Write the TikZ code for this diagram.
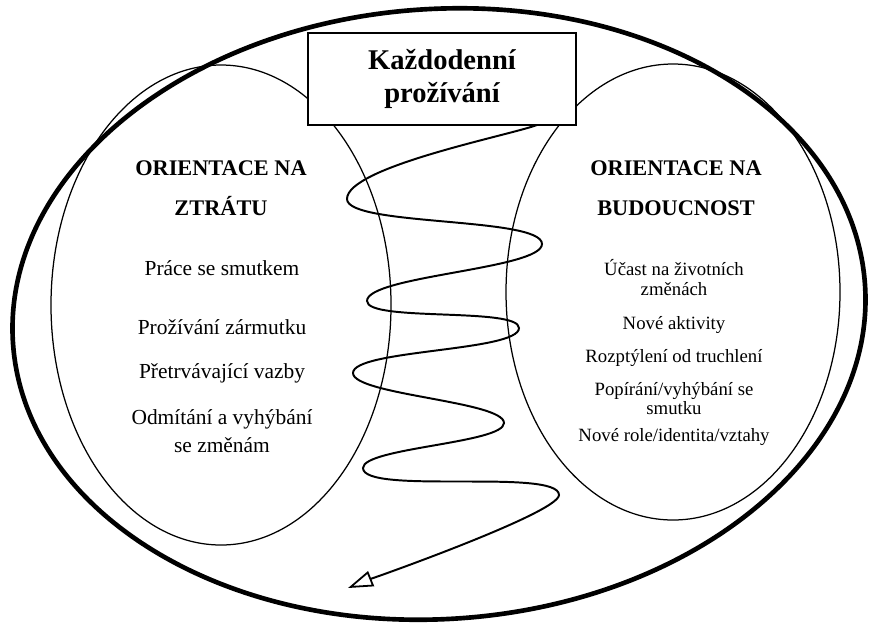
\documentclass[tikz,border=0pt]{standalone}
\usepackage{fontspec}
\setmainfont{Liberation Serif}
\usetikzlibrary{arrows.meta,calc}

\begin{document}
\begin{tikzpicture}[x=0.56pt,y=0.56pt,
  outer/.style={line width=2.6pt},
  side/.style={line width=0.7pt},
  titlebox/.style={draw,line width=0.9pt,fill=white,minimum width=150pt,
             minimum height=51.5pt,align=center,
             font=\fontsize{16}{18}\selectfont\bfseries},
  head/.style={align=center,font=\fontsize{12.5}{22.4}\selectfont\bfseries},
  iteml/.style={align=center,font=\fontsize{12}{15.6}\selectfont},
  itemr/.style={align=center,font=\fontsize{10.5}{10.8}\selectfont},
  spiral/.style={line width=1.1pt,
             -{Triangle[open,length=14pt,width=9pt,line width=1pt]}}
]
\useasboundingbox (0,0) rectangle (872,-627);
\coordinate (oc) at (439,-314);
\coordinate (lc) at (221,-305);
\coordinate (rc) at (673,-292);
\draw[outer,rotate around={4:(oc)}] (oc) ellipse [x radius=427,y radius=305];
\draw[side] (lc) ellipse [x radius=170,y radius=240];
\draw[side] (rc) ellipse [x radius=167,y radius=228];

\node[titlebox] (title) at (442,-79) {Každodenní\\prožívání};

\coordinate (s0) at (537,-125);
\coordinate (s1) at (347,-199);
\coordinate (s2) at (542,-244);
\coordinate (s3) at (367,-301);
\coordinate (s4) at (519,-328);
\coordinate (s5) at (353,-373);
\coordinate (s6) at (504,-423);
\coordinate (s7) at (363,-468);
\coordinate (s8) at (559,-495);
\coordinate (tip) at (348,-588);
\draw[spiral] (s0) to[out=200,in=90,looseness=0.4] (s1)
  to[out=-90,in=90,looseness=0.35] (s2)
  to[out=-90,in=90,looseness=0.35] (s3)
  to[out=-90,in=90,looseness=0.35] (s4)
  to[out=-90,in=90,looseness=0.35] (s5)
  to[out=-90,in=90,looseness=0.35] (s6)
  to[out=-90,in=90,looseness=0.35] (s7)
  to[out=-90,in=90,looseness=0.35] (s8)
  to[out=-90,in=22,looseness=0.2] (tip);

\node[head] (loss) at (221,-188) {ORIENTACE NA\\ZTRÁTU};
\node[iteml] (l1) at (222,-268) {Práce se smutkem};
\node[iteml] (l2) at (222,-327) {Prožívání zármutku};
\node[iteml] (l3) at (222,-373) {Přetrvávající vazby};
\node[iteml] (l4) at (222,-431) {Odmítání a vyhýbání\\se změnám};

\node[head] (future) at (676,-188) {ORIENTACE NA\\BUDOUCNOST};
\node[itemr] (r1) at (674,-277.5) {Účast na životních\\změnách};
\node[itemr] (r2) at (674,-325) {Nové aktivity};
\node[itemr] (r3) at (674,-358) {Rozptýlení od truchlení};
\node[itemr] (r4) at (674,-398.5) {Popírání/vyhýbání se\\smutku};
\node[itemr] (r5) at (674,-437) {Nové role/identita/vztahy};
\end{tikzpicture}
\end{document}
